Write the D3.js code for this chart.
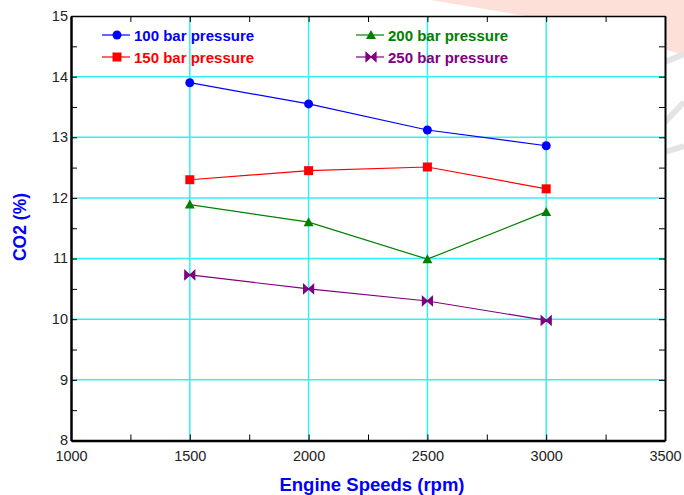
<!DOCTYPE html>
<html>
<head>
<meta charset="utf-8">
<script src="https://cdn.jsdelivr.net/npm/d3@7"></script>
<style>
  body { margin: 0; background: #fff; }
  text { font-family: "Liberation Sans", Arial, sans-serif; }
</style>
</head>
<body>
<div id="chart"></div>
<script>
// chart values
const speeds = [1500, 2000, 2500, 3000];
const bar100 = [13.9, 13.55, 13.12, 12.86];
const bar150 = [12.3, 12.45, 12.51, 12.15];
const bar200 = [11.89, 11.6, 10.99, 11.77];
const bar250 = [10.73, 10.5, 10.3, 9.98];
const seriesNames = ["100 bar pressure", "150 bar pressure", "200 bar pressure", "250 bar pressure"];
const xTicks = [1000, 1500, 2000, 2500, 3000, 3500];
const yTicks = [8, 9, 10, 11, 12, 13, 14, 15];

const w = 684, h = 495;
const plotLeft = 71, plotRight = 665, plotTop = 16, plotBottom = 440.5;

const svg = d3.select("#chart").append("svg")
  .attr("width", w).attr("height", h);

// faint watermark in the background
svg.append("path")
  .attr("d", "M430,0 L684,0 L684,55 L580,25 Z")
  .attr("fill", "#fde0d8");
svg.append("path")
  .attr("d", "M665,62 L684,54 M665,122 L684,102 M665,152 L684,146")
  .attr("stroke", "#e4e4e4").attr("stroke-width", 6).attr("fill", "none");

svg.append("rect")
  .attr("x", plotLeft).attr("y", plotTop)
  .attr("width", plotRight - plotLeft).attr("height", plotBottom - plotTop)
  .attr("fill", "#fff");

const x = d3.scaleLinear().domain([1000, 3500]).range([plotLeft, plotRight]);
const y = d3.scaleLinear().domain([8, 15]).range([plotBottom, plotTop]);

// grid
svg.append("g").selectAll("line")
  .data(yTicks.filter(d => d > 8 && d < 15))
  .enter().append("line")
  .attr("x1", plotLeft).attr("x2", plotRight)
  .attr("y1", d => y(d)).attr("y2", d => y(d))
  .attr("stroke", "#33f0f0").attr("stroke-width", 1.5);
svg.append("g").selectAll("line")
  .data(xTicks.filter(d => d > 1000 && d < 3500))
  .enter().append("line")
  .attr("y1", plotTop).attr("y2", plotBottom)
  .attr("x1", d => x(d)).attr("x2", d => x(d))
  .attr("stroke", "#33f0f0").attr("stroke-width", 1.5);

// axes, ticks inward with minor ticks
const xMinor = d3.range(1000, 3501, 250);
const yMinor = d3.range(8, 15.01, 0.5);

const xBottom = d3.axisBottom(x).tickValues(xMinor).tickSizeInner(-6).tickSizeOuter(0)
  .tickFormat(d => xTicks.includes(d) ? d : "");
const xTop = d3.axisTop(x).tickValues(xMinor).tickSizeInner(-6).tickSizeOuter(0).tickFormat("");
const yLeft = d3.axisLeft(y).tickValues(yMinor).tickSizeInner(-6).tickSizeOuter(0)
  .tickFormat(d => Number.isInteger(d) ? d : "");
const yRight = d3.axisRight(y).tickValues(yMinor).tickSizeInner(-6).tickSizeOuter(0).tickFormat("");

function styleAxis(g, width) {
  g.select(".domain").attr("stroke", "#000").attr("stroke-width", width);
  g.selectAll(".tick line").attr("stroke", "#000").attr("stroke-width", 1);
  g.selectAll(".tick text").attr("fill", "#222").style("font-size", "14.5px");
}

svg.append("g").attr("transform", `translate(0,${plotBottom})`).call(xBottom)
  .call(g => styleAxis(g, 2.5))
  .call(g => g.selectAll(".tick text").attr("y", 10));
svg.append("g").attr("transform", `translate(0,${plotTop})`).call(xTop).call(g => styleAxis(g, 1.5));
svg.append("g").attr("transform", `translate(${plotLeft},0)`).call(yLeft)
  .call(g => styleAxis(g, 2.5))
  .call(g => g.selectAll(".tick text").attr("x", -3).attr("dy", "0.3em"));
svg.append("g").attr("transform", `translate(${plotRight},0)`).call(yRight).call(g => styleAxis(g, 2));

// axis titles
svg.append("text")
  .attr("x", 372).attr("y", 491)
  .attr("text-anchor", "middle")
  .attr("fill", "#0000ff").style("font-weight", "bold").style("font-size", "18.5px")
  .text("Engine Speeds (rpm)");
svg.append("text")
  .attr("transform", "translate(26,227) rotate(-90)")
  .attr("text-anchor", "middle")
  .attr("fill", "#0000ff").style("font-weight", "bold").style("font-size", "17.5px")
  .text("CO2 (%)");

// series
const series = [
  { name: seriesNames[0], values: bar100, color: "#0000ff", marker: "circle" },
  { name: seriesNames[1], values: bar150, color: "#ff0000", marker: "square" },
  { name: seriesNames[2], values: bar200, color: "#008000", marker: "triangle" },
  { name: seriesNames[3], values: bar250, color: "#800080", marker: "bowtie" }
];

function drawMarker(g, type, color) {
  if (type === "circle") {
    g.append("circle").attr("r", 4.5).attr("fill", color);
  } else if (type === "square") {
    g.append("rect").attr("x", -4.5).attr("y", -4.5).attr("width", 9).attr("height", 9).attr("fill", color);
  } else if (type === "triangle") {
    g.append("path").attr("d", "M0,-5 L5,4 L-5,4 Z").attr("fill", color);
  } else {
    g.append("path").attr("d", "M-5,-4.5 L0,0 L-5,4.5 Z M5,-4.5 L0,0 L5,4.5 Z")
      .attr("fill", color).attr("stroke", color).attr("stroke-width", 1.2);
    g.append("line").attr("x1", -5).attr("x2", 5).attr("stroke", color).attr("stroke-width", 1.5);
  }
}

const line = d3.line().x((d, i) => x(speeds[i])).y(d => y(d));

series.forEach(s => {
  svg.append("path")
    .datum(s.values)
    .attr("d", line)
    .attr("fill", "none")
    .attr("stroke", s.color)
    .attr("stroke-width", 1.2);
  s.values.forEach((v, i) => {
    const g = svg.append("g").attr("transform", `translate(${x(speeds[i])},${y(v)})`);
    drawMarker(g, s.marker, s.color);
  });
});

// legend
const legendPos = [[102, 35], [102, 57], [356, 35], [356, 57]];
series.forEach((s, i) => {
  const [lx, ly] = legendPos[i];
  const g = svg.append("g").attr("transform", `translate(${lx},${ly})`);
  g.append("line").attr("x1", 0).attr("x2", 28).attr("stroke", s.color).attr("stroke-width", 1.2);
  const m = g.append("g").attr("transform", "translate(15,0)");
  drawMarker(m, s.marker, s.color);
  g.append("text").attr("x", 32).attr("y", 5.5)
    .attr("fill", s.color).style("font-weight", "bold").style("font-size", "15px")
    .text(s.name);
});
</script>
</body>
</html>
